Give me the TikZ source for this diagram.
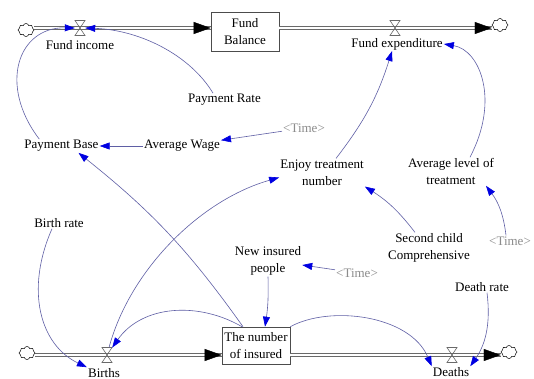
\documentclass[tikz,border=0pt]{standalone}
\usepackage{fontspec}
\setmainfont{Liberation Serif}
\newfontfamily\lserif{Liberation Serif}
\usetikzlibrary{arrows.meta,shapes.symbols,calc}
\definecolor{connc}{RGB}{95,95,165}
\definecolor{tipc}{RGB}{0,0,225}
\definecolor{pipec}{RGB}{105,105,105}
\definecolor{timec}{RGB}{140,140,140}
\begin{document}
\begin{tikzpicture}[x=1pt,y=1pt,
 lab/.style={font=\lserif\fontsize{13}{17}\selectfont, inner sep=1pt, align=center, text=black},
 tlab/.style={lab, text=timec},
 stock/.style={draw=black!70, line width=0.6pt, minimum width=68pt, inner sep=0pt, align=center, font=\lserif\fontsize{13}{17}\selectfont},
 valvebox/.style={minimum width=10pt, minimum height=15pt, inner sep=0pt},
 valve/.pic={\draw[pipec, line width=0.6pt] (-5,7.5) -- (5,7.5) -- (-5,-7.5) -- (5,-7.5) -- cycle;},
 cloudn/.style={cloud, cloud puffs=8, draw=black, line width=0.5pt, minimum width=16pt, minimum height=13pt, inner sep=0pt, aspect=1.3},
 pipe/.style={draw=pipec, double=white, double distance=2.4pt, line width=0.6pt},
 flowtip/.style={draw=black, -{Triangle[length=17pt,width=12pt]}},
 conn/.style={draw=connc, line width=0.6pt, -{Triangle[length=10pt,width=7pt,color=tipc]}}
]
\fill[white] (0,0) rectangle (534,-379);
\useasboundingbox (0,0) rectangle (534,-379);

% nodes
\node[cloudn] (cL1) at (26,-30) {};
\node[valvebox] (vFI) at (80,-28) {};
\node[stock, minimum height=39pt] (FB) at (245,-31.5) {Fund\\Balance};
\node[valvebox] (vFE) at (395,-28) {};
\node[cloudn] (cR1) at (500,-25) {};
\node[lab] (FI) at (80,-45) {Fund income};
\node[lab] (FE) at (397,-44) {Fund expenditure};
\node[lab] (PR) at (224.5,-100) {Payment Rate};
\node[lab] (PB) at (61.5,-146) {Payment Base};
\node[lab] (AW) at (182,-146) {Average Wage};
\node[tlab] (T1) at (304,-128) {<Time>};
\node[lab] (ETN) at (322,-172.5) {Enjoy treatment\\number};
\node[lab] (ALT) at (451,-171.5) {Average level of\\treatment};
\node[lab] (BR) at (59,-223) {Birth rate};
\node[lab] (NIP) at (268,-261) {New insured\\people};
\node[tlab] (T2) at (357,-273) {<Time>};
\node[lab] (SCC) at (429,-248) {Second child\\Comprehensive};
\node[tlab] (T3) at (510,-241) {<Time>};
\node[lab] (DR) at (482,-287) {Death rate};
\node[stock, minimum height=37pt] (NI) at (256,-345.5) {The number\\of insured};
\node[cloudn] (cL2) at (27,-353) {};
\node[valvebox] (vB) at (107,-355) {};
\node[valvebox] (vD) at (452,-355) {};
\node[cloudn] (cR2) at (509,-352) {};
\node[lab] (BL) at (104,-373) {Births};
\node[lab] (DL) at (451,-372) {Deaths};

% pipes
\draw[pipe] (cL1.east |- vFI) -- (FB.west |- vFI);
\draw[pipe] (FB.east |- vFE) -- (cR1.west |- vFE);
\draw[pipe] (cL2.east |- vB) -- (NI.west |- vB);
\draw[pipe] (NI.east |- vD) -- (cR2.west |- vD);
\pic at (vFI) {valve};
\pic at (vFE) {valve};
\pic at (vB) {valve};
\pic at (vD) {valve};
\draw[flowtip] ($(FB.west |- vFI)+(-17,0)$) -- (FB.west |- vFI);
\draw[flowtip] ($(cR1.west |- vFE)+(-17,0)$) -- (cR1.west |- vFE);
\draw[flowtip] ($(NI.west |- vB)+(-17,0)$) -- (NI.west |- vB);
\draw[flowtip] ($(cR2.west |- vD)+(-17,0)$) -- (cR2.west |- vD);

% connectors
\draw[conn] ([xshift=16pt]PB.north west) .. controls (-2,-85) and (18,-27) .. (vFI.west);
\draw[conn] ([xshift=26pt]PR.north west) .. controls (190,-55) and (140,-30) .. (vFI.east);
\draw[conn] (AW.west) -- (PB.east);
\draw[conn] (T1) -- (AW);
\draw[conn] ([xshift=14pt]ETN.north) to[bend right=10] ([xshift=-5pt]FE.south);
\draw[conn] ([xshift=19pt]ALT.north) .. controls (500,-100) and (480,-50) .. (FE.east);
\draw[conn] ([xshift=-4pt]T3.north) to[bend right=15] ([xshift=-9pt]ALT.south east);
\draw[conn] ([xshift=-14pt]SCC.north) to[bend right=10] (ETN.south east);
\draw[conn] (T2) -- ([yshift=-4pt]NIP.east);
\draw[conn] (NIP.south) to[bend left=5] ([xshift=9pt]NI.north);
\draw[conn] ([xshift=-13pt]NI.north) to[bend right=8] ([xshift=17pt]PB.south);
\draw[conn] (vB) .. controls (130,-270) and (200,-200) .. ([yshift=-5pt]ETN.west);
\draw[conn] ([xshift=-14pt]NI.north) to[out=150,in=55] (vB);
\draw[conn] ([xshift=-7pt]BR.south) .. controls (25,-290) and (40,-345) .. (BL.north west);
\draw[conn] (NI.north east) .. controls (330,-305) and (410,-315) .. (DL.north west);
\draw[conn] ([xshift=5pt]DR.south) .. controls (491,-325) and (485,-345) .. (DL.north east);
\end{tikzpicture}
\end{document}
